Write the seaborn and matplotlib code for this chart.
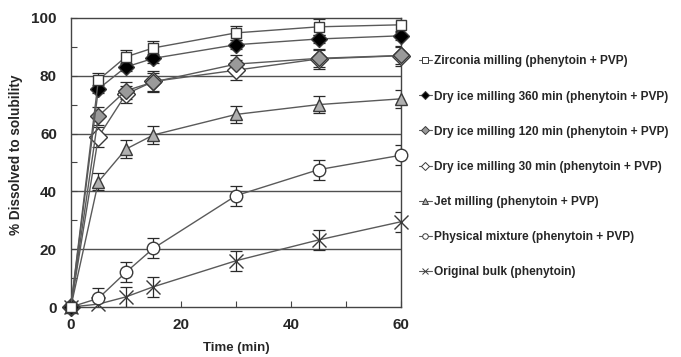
import matplotlib
matplotlib.use("Agg")
import matplotlib.pyplot as plt
from matplotlib.lines import Line2D
import pandas as pd
import seaborn as sns

# time points (min)
time = [0, 5, 10, 15, 30, 45, 60]

# % dissolved to solubility
zirconia = [0, 78.5, 86.5, 89.6, 94.8, 96.9, 97.6]
dry360 = [0, 75.4, 83.0, 86.0, 90.7, 92.7, 93.8]
dry120 = [0, 66.0, 74.8, 77.8, 84.0, 86.0, 87.0]
dry30 = [0, 58.8, 73.6, 78.0, 81.9, 85.8, 86.9]
jet = [0, 43.3, 54.6, 59.5, 66.6, 70.0, 72.0]
physical = [0, 3.0, 12.0, 20.3, 38.5, 47.5, 52.5]
bulk = [0, 1.0, 3.5, 7.0, 16.0, 23.2, 29.5]

# error bars (SD)
zirconia_err = [0, 2.5, 2.5, 2.5, 2.5, 2.8, 2.5]
dry360_err = [0, 1.5, 1.5, 1.5, 1.5, 1.5, 1.5]
dry120_err = [0, 3.0, 3.0, 3.0, 3.0, 3.0, 3.0]
dry30_err = [0, 3.5, 3.0, 3.5, 3.5, 3.5, 3.5]
jet_err = [0, 3.0, 3.2, 3.0, 3.0, 3.0, 3.2]
physical_err = [0, 3.5, 3.5, 3.5, 3.5, 3.5, 3.5]
bulk_err = [0, 2.0, 3.5, 3.5, 3.5, 3.5, 3.5]

labels = [
    "Zirconia milling (phenytoin + PVP)",
    "Dry ice milling 360 min (phenytoin + PVP)",
    "Dry ice milling 120 min (phenytoin + PVP)",
    "Dry ice milling 30 min (phenytoin + PVP)",
    "Jet milling (phenytoin + PVP)",
    "Physical mixture (phenytoin + PVP)",
    "Original bulk (phenytoin)",
]
values = [zirconia, dry360, dry120, dry30, jet, physical, bulk]
errors = [zirconia_err, dry360_err, dry120_err, dry30_err, jet_err, physical_err, bulk_err]

markers = ["s", "D", "D", "D", "^", "o", "x"]
faces = ["white", "black", "#9a9a9a", "white", "#b0b0b0", "white", "none"]
sizes = [7, 8, 8, 9, 9, 9, 10]

sns.set_style("ticks")
plt.rcParams["font.family"] = ["Liberation Sans", "DejaVu Sans"]
plt.rcParams["font.weight"] = "bold"

fig = plt.figure(figsize=(6.81, 3.57), dpi=100)
ax = fig.add_axes([0.104, 0.140, 0.485, 0.810])

line_col = "#5a5a5a"
edge_col = "#3a3a3a"

for y in [20, 40, 60, 80]:
    ax.axhline(y, color="#505050", lw=1.0, zorder=0)

# draw in reverse so the top curves sit on top
for i in reversed(range(len(labels))):
    df = pd.DataFrame({"t": time, "v": values[i]})
    ax.errorbar(time, values[i], yerr=errors[i], fmt="none", ecolor="#2a2a2a",
                elinewidth=0.9, capsize=4, capthick=0.9, zorder=2)
    sns.lineplot(data=df, x="t", y="v", ax=ax, color=line_col, lw=1.0,
                 marker=markers[i], markersize=sizes[i],
                 markerfacecolor=faces[i], markeredgecolor=edge_col,
                 markeredgewidth=1.0, zorder=3, legend=False, clip_on=False)

ax.set_xlim(0, 60)
ax.set_ylim(0, 100)
ax.set_xticks([0, 20, 40, 60])
ax.set_xticks([10, 30, 50], minor=True)
ax.set_yticks([0, 20, 40, 60, 80, 100])
ax.set_yticks([10, 30, 50, 70, 90], minor=True)
ax.tick_params(which="both", direction="in", length=4, width=0.8, color="#444444")
ax.tick_params(axis="x", which="major", labelsize=11, pad=8)
ax.tick_params(axis="y", which="major", labelsize=11, pad=10)
for lab in ax.get_xticklabels() + ax.get_yticklabels():
    lab.set_fontweight("bold")
for s in ax.spines.values():
    s.set_color("#444444")
    s.set_linewidth(1.0)
ax.set_xlabel("Time (min)", fontsize=9.5, fontweight="bold")
ax.xaxis.set_label_coords(0.5, -0.12)
ax.set_ylabel("% Dissolved to solubility", fontsize=9.8, fontweight="bold",
              family=["Liberation Sans Narrow", "Liberation Sans", "DejaVu Sans"])
ax.yaxis.set_label_coords(-0.146, 0.526)

handles = [
    Line2D([0], [0], color=line_col, lw=0.8, marker=markers[i], markersize=4,
           markerfacecolor=faces[i], markeredgecolor=edge_col, markeredgewidth=0.7)
    for i in range(len(labels))
]
fig.legend(handles, labels, loc="upper left", bbox_to_anchor=(0.615, 0.845),
           frameon=False, prop={"size": 8.6, "weight": "bold"},
           handlelength=1.1, handletextpad=0.15, labelspacing=1.94,
           borderaxespad=0, borderpad=0)

fig.savefig("out.png", dpi=100)
